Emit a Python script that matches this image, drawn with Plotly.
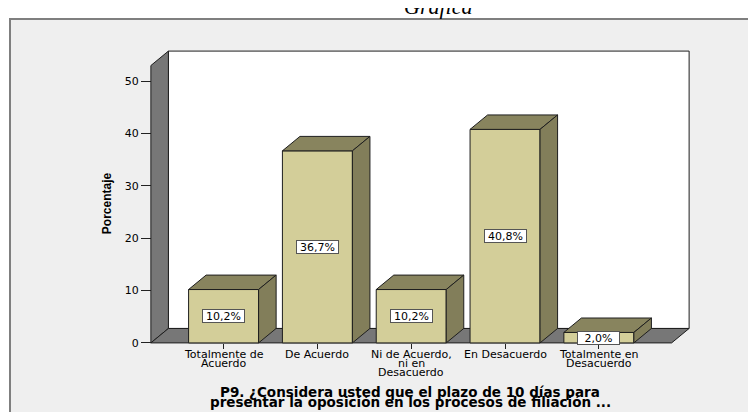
import plotly.graph_objects as go

# ---------------- data ----------------
categories = [
    "Totalmente de\nAcuerdo",
    "De Acuerdo",
    "Ni de Acuerdo,\nni en\nDesacuerdo",
    "En Desacuerdo",
    "Totalmente en\nDesacuerdo",
]
percentages = [10.2, 36.7, 10.2, 40.8, 2.0]
value_labels = ["10,2%", "36,7%", "10,2%", "40,8%", "2,0%"]
y_ticks = [0, 10, 20, 30, 40, 50]
y_title = "Porcentaje"
x_title_lines = [
    "P9. ¿Considera usted que el plazo de 10 días para",
    "presentar la oposición en los procesos de filiación ...",
]
chart_title = "Gráfica"

# ---------------- style / geometry ----------------
BAR_W = 0.746
DX = 0.187        # depth offset in x units
DY = 2.76         # depth offset in y units
X0 = -0.775
X1 = len(categories) - 1 + 0.775
YTOP = 53.0
PADX = 0.02
PADY = 0.4

FRONT = "#D3CE99"
TOP = "#88845E"
SIDE = "#827E5A"
WALL = "#777777"
EDGE = "#1E1E1E"
FONT = "DejaVu Sans"

OFF = 8                      # page body margin
W, H = 756 - OFF, 412 - OFF
L, R, T, B = 141, 65, 41, 67
PW, PH = W - L - R, H - T - B


def px_x(p):                 # page pixel -> paper x
    return (p - OFF - L) / PW


def px_y(p):                 # page pixel -> paper y
    return (H - B - (p - OFF)) / PH


def poly(xs, ys, fill):
    return go.Scatter(
        x=list(xs) + [xs[0]], y=list(ys) + [ys[0]], mode="lines",
        fill="toself", fillcolor=fill, line=dict(color=EDGE, width=1),
        hoverinfo="skip", showlegend=False,
    )


fig = go.Figure()

# back wall
fig.add_trace(poly([X0 + DX, X1 + DX, X1 + DX, X0 + DX],
                   [DY, DY, YTOP + DY, YTOP + DY], "white"))
# left wall
fig.add_trace(poly([X0, X0 + DX, X0 + DX, X0],
                   [0, DY, YTOP + DY, YTOP], WALL))
# floor
fig.add_trace(poly([X0, X1, X1 + DX, X0 + DX], [0, 0, DY, DY], WALL))

# bars
for i, v in enumerate(percentages):
    xl, xr = i - BAR_W / 2, i + BAR_W / 2
    fig.add_trace(poly([xl, xr, xr, xl], [0, 0, v, v], FRONT))
    fig.add_trace(poly([xl, xr, xr + DX, xl + DX], [v, v, v + DY, v + DY], TOP))
    fig.add_trace(poly([xr, xr + DX, xr + DX, xr], [0, DY, v + DY, v], SIDE))

annotations = []
# value labels
for i, (v, lab) in enumerate(zip(percentages, value_labels)):
    annotations.append(dict(
        x=i, y=v / 2, xref="x", yref="y", text=lab, showarrow=False,
        xanchor="center", yanchor="middle",
        bgcolor="white", bordercolor="#555555", borderwidth=1, borderpad=1,
        width=39, height=10,
        font=dict(family=FONT, size=11, color="black"),
    ))

# category labels (tight line spacing)
for i, cat in enumerate(categories):
    for k, line in enumerate(cat.split("\n")):
        annotations.append(dict(
            x=i, y=0, xref="x", yref="y", text=line, showarrow=False,
            xanchor="center", yanchor="middle", yshift=-(11.8 + 8.8 * k),
            font=dict(family=FONT, size=11, color="black"),
        ))

# x-axis title lines
for k, line in enumerate(x_title_lines):
    annotations.append(dict(
        x=px_x(410), y=px_y(391.5 + 10.5 * k), xref="paper", yref="paper",
        text=line, showarrow=False, xanchor="center", yanchor="middle",
        font=dict(family=FONT, size=13.5, color="black", weight="bold"),
    ))

# y-axis title
annotations.append(dict(
    x=px_x(106.7), y=px_y(203.5), xref="paper", yref="paper",
    text=y_title, showarrow=False, textangle=-90,
    xanchor="center", yanchor="middle",
    font=dict(family="Liberation Sans", size=12, color="black", weight="bold"),
))

# chart title (cut off at top)
annotations.append(dict(
    x=px_x(438), y=px_y(21), xref="paper", yref="paper",
    xanchor="center", yanchor="bottom",
    text="<i>" + chart_title + "</i>", showarrow=False,
    font=dict(family="Liberation Serif", size=22, color="black"),
))

fig.update_layout(
    width=W, height=H,
    margin=dict(l=L, r=R, t=T, b=B, pad=0),
    paper_bgcolor="white",
    plot_bgcolor="rgba(0,0,0,0)",
    showlegend=False,
    font=dict(family=FONT, size=11, color="black"),
    annotations=annotations,
    shapes=[dict(
        type="rect", xref="paper", yref="paper", layer="below",
        x0=px_x(10), x1=px_x(800), y0=px_y(460), y1=px_y(19),
        fillcolor="#EFEFEF", line=dict(color="#7F7F7F", width=2),
    )],
    xaxis=dict(
        range=[X0 - PADX, X1 + DX + PADX], showgrid=False, zeroline=False,
        showline=False, tickvals=list(range(len(categories))),
        ticktext=["" for _ in categories], ticks="outside", ticklen=5,
        tickcolor="#222222", anchor="free",
        position=PADY / (YTOP + DY + 2 * PADY),
        fixedrange=True,
    ),
    yaxis=dict(
        range=[-PADY, YTOP + DY + PADY], showgrid=False, zeroline=False,
        showline=False, tickvals=y_ticks, ticks="outside", ticklen=10,
        tickcolor="#222222", anchor="free",
        position=PADX / (X1 + DX + 2 * PADX - X0),
        tickfont=dict(family=FONT, size=11, color="black"),
        fixedrange=True,
    ),
)

fig.write_html("out.html")
